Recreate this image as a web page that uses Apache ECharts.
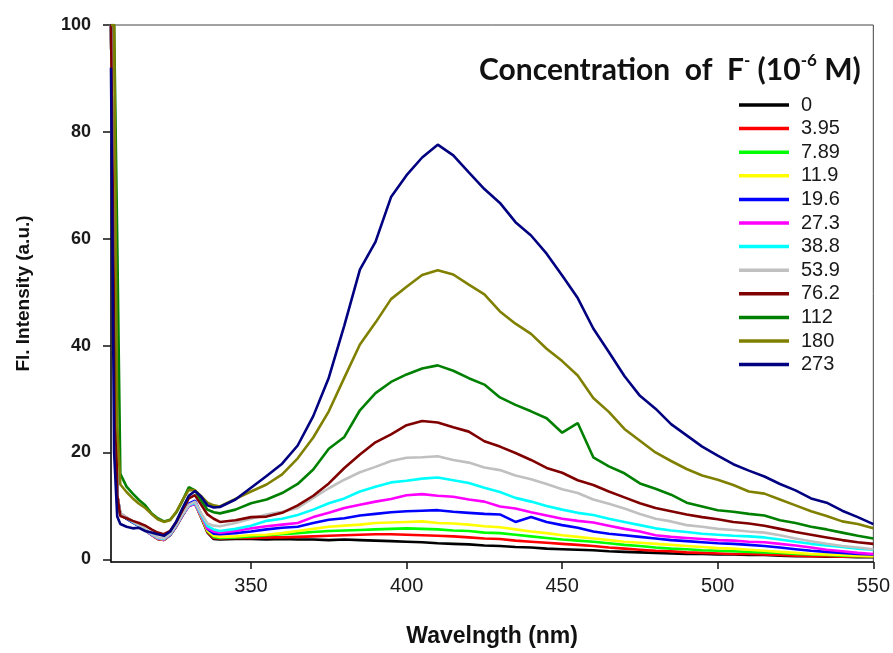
<!DOCTYPE html>
<html>
<head>
<meta charset="utf-8">
<script src="https://cdn.jsdelivr.net/npm/echarts@6/dist/echarts.min.js"></script>
<style>html,body{margin:0;padding:0;background:#fff;}#c{width:893px;height:653px;}</style>
</head>
<body>
<div id="c"></div>
<script>
// Wavelength grid (nm)
const wavelengths = [305,306,307,308,310,312,314,316,318,320,322,324,326,328,330,332,334,336,338,340,
  345,350,355,360,365,370,375,380,385,390,395,400,405,410,415,420,425,430,435,440,445,450,455,460,465,470,475,480,485,490,495,500,505,510,515,520,525,530,535,540,545,550];

// Concentration of F- (10^-6 M) legend labels
const concentrations = ['0','3.95','7.89','11.9','19.6','27.3','38.8','53.9','76.2','112','180','273'];
const lineColors = ['#000000','#ff0000','#00ff00','#ffff00','#0000ff','#ff00ff','#00ffff','#c0c0c0','#800000','#008000','#808000','#000080'];

const yTicks = [0,20,40,60,80,100];
const xTicks = [350,400,450,500,550];

// Fluorescence intensity (a.u.) for each concentration
const s0 = [100,45,12,8.4,7.6,6.9,6.2,5.4,4.6,3.8,3.6,4.5,6.2,8.2,10.0,10.4,7.8,5.0,3.8,3.7,
  3.8,3.8,3.7,3.8,3.7,3.7,3.6,3.7,3.6,3.5,3.4,3.3,3.2,3.0,2.9,2.8,2.6,2.5,2.3,2.2,2.0,1.9,1.8,1.7,1.5,1.4,1.3,1.2,1.1,1.0,1.0,0.9,0.9,0.8,0.8,0.7,0.6,0.6,0.5,0.5,0.4,0.4];
const s3_95 = [100,45,12,8.5,7.7,7.0,6.3,5.5,4.6,3.8,3.6,4.6,6.2,8.3,10.1,10.5,7.9,5.1,4.0,3.9,
  4.0,4.0,4.1,4.1,4.2,4.3,4.4,4.5,4.6,4.7,4.7,4.6,4.5,4.4,4.3,4.1,3.9,3.8,3.5,3.3,3.1,2.9,2.7,2.5,2.2,2.0,1.8,1.6,1.5,1.3,1.2,1.1,1.0,1.0,0.9,0.8,0.7,0.6,0.6,0.5,0.5,0.5];
const s7_89 = [100,45,12,8.6,7.8,7.1,6.4,5.6,4.7,3.9,3.7,4.6,6.3,8.4,10.2,10.6,8.0,5.3,4.2,4.0,
  4.1,4.3,4.5,4.7,4.9,5.1,5.3,5.4,5.5,5.6,5.7,5.8,5.7,5.6,5.4,5.3,5.0,4.9,4.6,4.3,4.0,3.7,3.5,3.3,3.0,2.7,2.5,2.2,2.0,1.9,1.7,1.6,1.5,1.4,1.3,1.2,1.0,0.9,0.8,0.7,0.6,0.6];
const s11_9 = [100,45,12,8.5,7.7,7.0,6.4,5.5,4.7,3.9,3.7,4.7,6.4,8.4,10.1,10.5,8.0,5.4,4.4,4.2,
  4.3,4.5,4.6,4.9,5.3,5.7,6.1,6.3,6.5,6.8,6.9,7.0,7.1,6.8,6.7,6.5,6.2,6.0,5.6,5.2,4.9,4.5,4.2,3.9,3.6,3.3,3.1,2.9,2.7,2.5,2.3,2.1,2.0,1.8,1.6,1.4,1.2,1.0,0.9,0.8,0.7,0.6];
const s19_6 = [100,45,12,8.4,7.6,6.9,6.3,5.5,4.7,4.0,3.8,4.7,6.4,8.5,10.4,11.0,8.4,5.7,4.8,4.7,
  4.9,5.2,5.6,5.9,6.1,6.8,7.4,7.7,8.2,8.5,8.8,9.0,9.1,9.2,8.9,8.7,8.5,8.4,7.0,7.9,7.0,6.4,5.9,5.2,4.8,4.5,4.2,3.9,3.6,3.4,3.2,3.0,2.9,2.7,2.5,2.2,1.9,1.6,1.4,1.2,1.0,0.9];
const s27_3 = [100,45,12,8.6,7.8,7.0,6.3,5.5,4.6,3.9,3.7,4.6,6.3,8.3,10.0,10.4,8.1,5.8,5.2,5.0,
  5.3,5.8,6.2,6.5,6.8,7.9,8.7,9.6,10.2,10.8,11.3,12.0,12.2,11.9,11.7,11.2,10.8,9.9,9.5,8.8,8.2,7.6,7.2,6.9,6.3,5.7,5.2,4.5,4.2,4.0,3.8,3.6,3.5,3.3,3.2,2.9,2.6,2.2,1.8,1.5,1.2,1.0];
const s38_8 = [100,45,12,8.5,7.7,7.0,6.3,5.5,4.7,4.0,3.8,4.7,6.4,8.4,10.1,10.6,8.3,6.2,5.6,5.3,
  5.7,6.3,7.2,7.6,8.3,9.3,10.5,11.4,12.7,13.6,14.4,14.7,15.1,15.3,14.8,14.3,13.4,12.6,11.5,10.8,10.0,9.3,8.7,8.3,7.6,7.0,6.4,5.8,5.4,5.1,4.8,4.6,4.4,4.3,4.1,3.7,3.3,2.9,2.6,2.3,2.0,1.8];
const s53_9 = [100,45,12,8.6,7.8,7.1,6.4,5.6,4.8,4.1,3.9,4.8,6.5,8.5,10.2,10.8,8.6,6.7,6.3,6.2,
  6.8,7.6,8.4,8.9,9.6,11.5,13.3,14.9,16.3,17.3,18.4,19.0,19.1,19.3,18.6,18.1,17.2,16.7,15.7,15.0,14.1,13.1,12.4,11.2,10.4,9.5,8.5,7.6,7.1,6.4,6.1,5.7,5.5,5.2,5.0,4.5,3.9,3.4,2.9,2.5,2.2,1.9];
const s76_2 = [100,45,12,8.1,7.7,7.2,6.8,6.3,5.6,5.0,4.7,5.3,7.0,9.2,11.4,12.0,10.2,8.4,7.6,7.0,
  7.3,7.9,8.0,8.7,10.1,11.9,14.2,17.1,19.6,21.9,23.4,25.1,25.9,25.6,24.7,23.9,22.1,21.1,19.9,18.6,17.1,16.2,14.8,13.9,12.7,11.6,10.5,9.6,9.0,8.4,7.9,7.5,7.0,6.7,6.3,5.7,5.1,4.6,4.1,3.6,3.2,2.9];
const s112 = [100,100,60,16.0,13.6,12.3,11.1,10.1,8.6,7.7,7.1,7.4,8.8,11.0,13.5,12.9,11.0,9.3,8.8,8.6,
  9.3,10.5,11.2,12.4,14.1,16.8,20.7,22.9,27.9,31.1,33.2,34.6,35.7,36.3,35.3,33.9,32.7,30.3,28.9,27.7,26.4,23.7,25.5,19.1,17.4,16.1,14.2,13.2,12.1,10.6,9.9,9.2,8.9,8.5,8.2,7.3,6.8,6.1,5.6,5.0,4.4,3.9];
const s180 = [100,100,25,14.0,12.6,11.4,10.4,9.6,8.5,7.5,7.0,7.3,8.9,11.1,13.0,12.9,11.8,10.6,10.1,9.9,
  11.3,12.7,14.0,15.9,18.9,22.8,27.7,34.0,40.2,44.3,48.7,51.0,53.2,54.1,53.3,51.4,49.6,46.4,44.1,42.2,39.4,37.1,34.4,30.2,27.6,24.4,22.2,20.0,18.4,16.9,15.7,14.9,13.9,12.7,12.3,11.2,10.1,9.0,8.1,7.1,6.6,5.8];
const s273 = [92,20,8.0,6.6,6.1,5.8,5.9,5.3,5.0,4.7,4.4,5.2,7.1,9.6,11.9,12.8,11.7,10.1,9.7,9.8,
  11.2,13.4,15.6,17.9,21.3,26.8,34.0,43.8,54.2,59.4,67.8,71.9,75.2,77.6,75.6,72.4,69.3,66.7,63.1,60.6,57.2,53.1,48.9,43.2,38.8,34.3,30.6,28.2,25.3,23.2,21.1,19.4,17.8,16.6,15.5,14.1,12.9,11.4,10.6,9.1,7.9,6.6];

const seriesValues = [s0,s3_95,s7_89,s11_9,s19_6,s27_3,s38_8,s53_9,s76_2,s112,s180,s273];

const SANS = "'Liberation Sans',Arial,sans-serif";
const chart = echarts.init(document.getElementById('c'), null, {renderer:'canvas'});

const series = concentrations.map((name, k) => ({
  name: name,
  type: 'line',
  symbol: 'none',
  showSymbol: false,
  color: lineColors[k],
  lineStyle: {width: 2.6, color: lineColors[k]},
  data: wavelengths.map((w, i) => [w, seriesValues[k][i]]),
  animation: false
}));

chart.setOption({
  animation: false,
  backgroundColor: '#ffffff',
  grid: {left: 111, right: 19, top: 25, bottom: 90, show: true, borderColor: '#444', borderWidth: 1, containLabel: false},
  xAxis: {
    type: 'value', min: 305, max: 550,
    name: 'Wavelngth (nm)', nameLocation: 'middle', nameGap: 63,
    nameTextStyle: {fontSize: 23, fontWeight: 'bold', fontFamily: SANS, color: '#111'},
    axisLine: {show: true, onZero: false, lineStyle: {color: '#111', width: 1.5}},
    axisTick: {show: true, length: 7, customValues: xTicks, lineStyle: {color: '#111', width: 1.5}},
    axisLabel: {customValues: xTicks, margin: 14, fontSize: 20, fontFamily: SANS, color: '#1a1a1a'},
    splitLine: {show: false}
  },
  yAxis: {
    type: 'value', min: -0.5, max: 100,
    name: 'Fl. Intensity (a.u.)', nameLocation: 'middle', nameGap: 78,
    nameTextStyle: {fontSize: 19, fontWeight: 'bold', fontFamily: SANS, color: '#111'},
    axisLine: {show: true, onZero: false, lineStyle: {color: '#111', width: 1.5}},
    axisTick: {show: true, length: 8, customValues: yTicks, lineStyle: {color: '#111', width: 1.5}},
    axisLabel: {customValues: yTicks, margin: 20, fontSize: 18, fontWeight: 'bold', fontFamily: SANS, color: '#1a1a1a'},
    splitLine: {show: false}
  },
  legend: {
    orient: 'vertical', left: 734, top: 90,
    icon: 'rect',
    itemWidth: 50, itemHeight: 3.5, itemGap: 3.6,
    textStyle: {fontSize: 20, lineHeight: 20, fontFamily: SANS, color: '#1a1a1a', padding: [0,0,0,7]},
    data: concentrations
  },
  graphic: [{
    type: 'text', left: 479, top: 52,
    style: {
      text: '{a|Concentration  of  F}{s|-}{a| (10}{s|-6}{a| M)}',
      rich: {
        a: {fontSize: 30, fontWeight: 'bold', fontFamily: 'Lato, sans-serif', fill: '#111', lineHeight: 36},
        s: {fontSize: 17, fontWeight: 'bold', fontFamily: 'Lato, sans-serif', fill: '#111', verticalAlign: 'top', lineHeight: 17}
      }
    }
  }],
  series: series
});
</script>
</body>
</html>
